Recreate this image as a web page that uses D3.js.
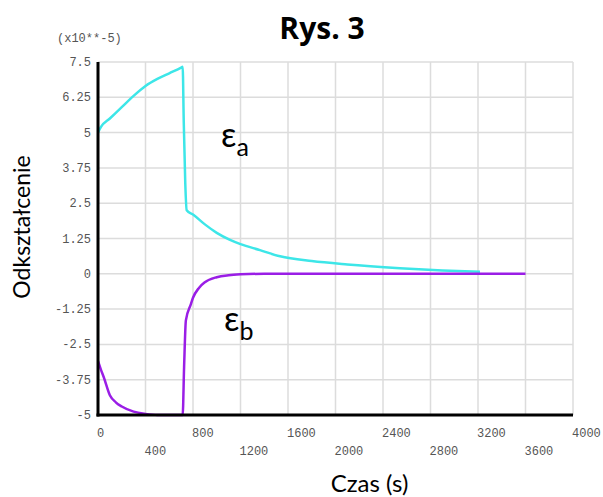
<!DOCTYPE html>
<html>
<head>
<meta charset="utf-8">
<script src="https://cdn.jsdelivr.net/npm/d3@7"></script>
<style>
  body { margin: 0; background: #fff; }
  svg { display: block; }
</style>
</head>
<body>
<div class="container"></div>
<script>
// czas (s) i odkształcenie (x10**-5)
var timeA = [0, 25, 100, 200, 300, 400, 500, 600, 700, 713, 722, 735, 747, 800, 900, 1000, 1112, 1200, 1364, 1533, 1800, 2100, 2543, 2900, 3217];
var strainA = [5.0, 5.2, 5.5, 5.9, 6.3, 6.65, 6.9, 7.1, 7.3, 7.33, 5.4, 3.2, 2.25, 2.1, 1.75, 1.45, 1.2, 1.05, 0.84, 0.62, 0.45, 0.33, 0.2, 0.12, 0.07];
var timeB = [0, 25, 50, 100, 150, 200, 300, 400, 500, 713, 725, 740, 780, 800, 850, 900, 1000, 1100, 1200, 1400, 3600];
var strainB = [-3.09, -3.4, -3.68, -4.3, -4.55, -4.7, -4.88, -4.96, -5.0, -5.0, -3.3, -1.65, -1.1, -0.85, -0.5, -0.3, -0.12, -0.05, -0.02, 0, 0];
var xTicks = [0, 400, 800, 1200, 1600, 2000, 2400, 2800, 3200, 3600, 4000];
var yTicks = [-5, -3.75, -2.5, -1.25, 0, 1.25, 2.5, 3.75, 5, 6.25, 7.5];

var iWidth = 603, iHeight = 497;
var plotLeft = 98, plotRight = 573, plotTop = 62, plotBottom = 415;

var oSVG = d3.select(".container").append("svg")
	.attr("width", iWidth)
	.attr("height", iHeight);

var x = d3.scaleLinear().domain([0, 4000]).range([plotLeft, plotRight]);
var y = d3.scaleLinear().domain([-5, 7.5]).range([plotBottom, plotTop]);

// siatka
oSVG.append("g").selectAll("line").data(xTicks).enter().append("line")
	.attr("x1", function(d) { return x(d); })
	.attr("x2", function(d) { return x(d); })
	.attr("y1", plotTop).attr("y2", plotBottom)
	.attr("stroke", "#dcdcdc").attr("stroke-width", 1.5);
oSVG.append("g").selectAll("line").data(yTicks).enter().append("line")
	.attr("y1", function(d) { return y(d); })
	.attr("y2", function(d) { return y(d); })
	.attr("x1", plotLeft).attr("x2", plotRight)
	.attr("stroke", "#dcdcdc").attr("stroke-width", 1.5);

// etykiety osi Y
oSVG.append("g").selectAll("text").data(yTicks).enter().append("text")
	.attr("x", 91)
	.attr("y", function(d) { return y(d) + 4; })
	.attr("text-anchor", "end")
	.style("font-family", "Liberation Mono, monospace")
	.style("font-size", "12px")
	.style("fill", "#555")
	.text(function(d) { return d; });

// etykiety osi X, naprzemiennie w dwóch rzędach
oSVG.append("g").selectAll("text").data(xTicks).enter().append("text")
	.attr("x", function(d) { return x(d) - 1; })
	.attr("y", function(d, i) { return i % 2 === 0 ? 437 : 455; })
	.style("font-family", "Liberation Mono, monospace")
	.style("font-size", "12px")
	.style("fill", "#555")
	.text(function(d) { return d; });

oSVG.append("text")
	.attr("x", 57).attr("y", 42)
	.style("font-family", "Liberation Mono, monospace")
	.style("font-size", "12px")
	.style("fill", "#555")
	.text("(x10**-5)");

// krzywe
var line = d3.line()
	.curve(d3.curveMonotoneX)
	.x(function(d) { return x(d[0]); })
	.y(function(d) { return y(d[1]); });

oSVG.append("path")
	.datum(d3.zip(timeA, strainA))
	.attr("d", line)
	.attr("fill", "none")
	.attr("stroke", "#3de6e8")
	.attr("stroke-width", 2.5)
	.attr("stroke-linejoin", "round");

oSVG.append("path")
	.datum(d3.zip(timeB, strainB))
	.attr("d", line)
	.attr("fill", "none")
	.attr("stroke", "#9a1ee6")
	.attr("stroke-width", 2.5)
	.attr("stroke-linejoin", "round");

// osie
oSVG.append("line")
	.attr("x1", plotLeft).attr("x2", plotLeft).attr("y1", plotTop).attr("y2", plotBottom + 1.5)
	.attr("stroke", "#000").attr("stroke-width", 3);
oSVG.append("line")
	.attr("x1", plotLeft - 1.5).attr("x2", plotRight).attr("y1", plotBottom).attr("y2", plotBottom)
	.attr("stroke", "#000").attr("stroke-width", 3);

// tytuł i opisy
oSVG.append("text")
	.attr("x", 322).attr("y", 38.5)
	.attr("text-anchor", "middle")
	.style("font-family", "Open Sans, sans-serif")
	.style("font-weight", "bold")
	.style("font-size", "30px")
	.text("Rys. 3");

oSVG.append("text")
	.attr("transform", "translate(30,227) rotate(-90)")
	.attr("text-anchor", "middle")
	.style("font-family", "Lato, Open Sans, sans-serif")
	.style("font-size", "23px")
	.text("Odkształcenie");

oSVG.append("text")
	.attr("x", 369.5).attr("y", 492)
	.attr("text-anchor", "middle")
	.style("font-family", "Lato, Open Sans, sans-serif")
	.style("font-size", "24px")
	.text("Czas (s)");

var labels = [{ x: 221, y: 147, sub: "a" }, { x: 224, y: 331, sub: "b" }];
var eps = oSVG.append("g").selectAll("text").data(labels).enter().append("text")
	.attr("x", function(d) { return d.x; })
	.attr("y", function(d) { return d.y; })
	.style("font-family", "Lato, Open Sans, sans-serif")
	.style("font-size", "34px");
eps.append("tspan").text("ε");
eps.append("tspan")
	.attr("dy", 9)
	.style("font-size", "25px")
	.text(function(d) { return d.sub; });
</script>
</body>
</html>
